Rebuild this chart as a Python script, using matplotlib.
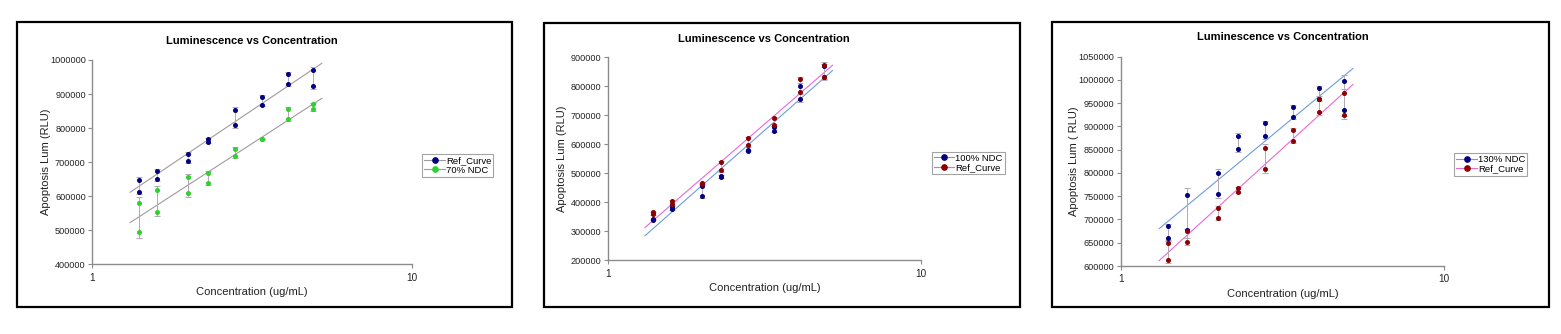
import matplotlib
matplotlib.use("Agg")
import matplotlib.pyplot as plt
import numpy as np
from matplotlib.lines import Line2D
from matplotlib.patches import Rectangle
from matplotlib.ticker import FixedLocator, NullLocator, FuncFormatter

plt.rcParams["font.family"] = ["Liberation Sans", "DejaVu Sans"]

# concentrations (ug/mL), two replicates per point
conc = [1.4, 1.6, 2.0, 2.3, 2.8, 3.4, 4.1, 4.9]

ref_rep1 = [648600, 675000, 725000, 768000, 853000, 892000, 959000, 971000]
ref_rep2 = [613400, 650600, 703400, 759000, 809000, 869000, 930500, 924600]

ndc70_rep1 = [580000, 617000, 655500, 667000, 738700, 768000, 855000, 871700]
ndc70_rep2 = [495000, 553700, 608500, 639800, 717100, 767000, 826700, 855100]

ref2_rep1 = [366000, 405000, 466000, 538000, 621000, 690000, 824000, 875000]
ref2_rep2 = [358000, 394000, 462000, 510000, 597000, 667000, 781000, 833000]
ndc100_rep1 = [338000, 384000, 456000, 492000, 580000, 659000, 801000, 870000]
ndc100_rep2 = [341000, 376000, 423000, 486000, 577000, 645000, 756000, 831000]

ndc130_rep1 = [685300, 751900, 799200, 880200, 906700, 941100, 982700, 997000]
ndc130_rep2 = [659500, 676700, 755500, 850800, 878700, 919600, 960000, 936100]

TITLE = "Luminescence vs Concentration"
XLABEL = "Concentration (ug/mL)"

NAVY = "#000080"
GREEN = "#2ED12E"
DARKRED = "#8B0000"
GREY_LINE = "#A39A9A"
BLUE_LINE = "#6E9BDD"
PINK_LINE = "#EE66D6"
ERR = "#B4A8B4"

W, H = 1561, 334
fig = plt.figure(figsize=(W / 100, H / 100), dpi=100)
fig.patch.set_facecolor("white")


def fbox(l, t, r, b):
    return [l / W, 1 - b / H, (r - l) / W, (b - t) / H]


panels = [
    dict(frame=(17, 22, 512, 307), ax=(92, 60, 412.3, 264.3),
         ylim=(400000, 1000000), ystep=100000, ylabel="Apoptosis Lum (RLU)",
         title_y=41.5, xlab_y=292.3, ylab_x=46, leg=(422.3, 154.3),
         series=[("Ref_Curve", ref_rep1, ref_rep2, NAVY, GREY_LINE),
                 ("70% NDC", ndc70_rep1, ndc70_rep2, GREEN, GREY_LINE)]),
    dict(frame=(543.5, 22.5, 1020, 306.7), ax=(607.7, 57.3, 921, 260.3),
         ylim=(200000, 900000), ystep=100000, ylabel="Apoptosis Lum (RLU)",
         title_y=38.7, xlab_y=287.7, ylab_x=562, leg=(931.7, 151.7),
         series=[("100% NDC", ndc100_rep1, ndc100_rep2, NAVY, BLUE_LINE),
                 ("Ref_Curve", ref2_rep1, ref2_rep2, DARKRED, PINK_LINE)]),
    dict(frame=(1052, 22, 1549, 306.7), ax=(1120.7, 56.7, 1444.3, 266),
         ylim=(600000, 1050000), ystep=50000, ylabel="Apoptosis Lum ( RLU)",
         title_y=37.3, xlab_y=294, ylab_x=1074, leg=(1454.3, 153.3),
         series=[("130% NDC", ndc130_rep1, ndc130_rep2, NAVY, BLUE_LINE),
                 ("Ref_Curve", ref_rep1, ref_rep2, DARKRED, PINK_LINE)]),
]

x = np.array(conc)
for p in panels:
    fl, ft, fr, fb = p["frame"]
    fig.patches.append(Rectangle((fl / W, 1 - fb / H), (fr - fl) / W, (fb - ft) / H,
                                 transform=fig.transFigure, fill=False,
                                 ec="black", lw=1.6, zorder=0))
    l, t, r, b = p["ax"]
    ax = fig.add_axes(fbox(l, t, r, b))
    ax.set_xscale("log")
    ax.set_xlim(1, 10)
    ax.set_ylim(*p["ylim"])

    handles = []
    for label, r1, r2, mcol, lcol in p["series"]:
        reps = np.vstack([r1, r2])
        mean = reps.mean(axis=0)
        sd = reps.std(axis=0, ddof=1)
        ax.errorbar(x, mean, yerr=sd, fmt="none", ecolor=ERR, elinewidth=0.7,
                    capsize=2, capthick=0.7, zorder=2)
        # log-linear fit through all replicates
        k, c0 = np.polyfit(np.log10(np.concatenate([x, x])), reps.ravel(), 1)
        xf = np.array([x.min() / 1.065, x.max() * 1.065])
        ax.plot(xf, k * np.log10(xf) + c0, color=lcol, lw=0.8, zorder=1)
        ax.plot(np.concatenate([x, x]), reps.ravel(), "o", ms=2.6, color=mcol,
                mec=mcol, zorder=3)
        handles.append(Line2D([], [], color=lcol, lw=0.8, marker="o", ms=3.8,
                              mfc=mcol, mec=mcol, label=label))

    for s in ["top", "right"]:
        ax.spines[s].set_visible(False)
    for s in ["left", "bottom"]:
        ax.spines[s].set_color("#8C8C8C")
        ax.spines[s].set_linewidth(1.0)

    yt = np.arange(p["ylim"][0], p["ylim"][1] + 1, p["ystep"])
    ax.yaxis.set_major_locator(FixedLocator(yt))
    ax.yaxis.set_major_formatter(FuncFormatter(lambda v, pos: f"{int(round(v))}"))
    ax.xaxis.set_major_locator(FixedLocator([1, 10]))
    ax.xaxis.set_major_formatter(FuncFormatter(lambda v, pos: f"{int(round(v))}"))
    ax.xaxis.set_minor_locator(NullLocator())
    ax.tick_params(axis="both", direction="out", length=3, width=0.8,
                   color="#8C8C8C", labelsize=6.6, pad=1.5, labelcolor="#222222")
    ax.tick_params(axis="x", pad=3, labelsize=7.2)

    cx = (l + r) / 2
    fig.text(cx / W, 1 - p["title_y"] / H, TITLE, ha="center", va="center",
             fontsize=8, fontweight="bold")
    fig.text(cx / W, 1 - p["xlab_y"] / H, XLABEL, ha="center", va="center",
             fontsize=8, color="#222222")
    fig.text(p["ylab_x"] / W, 1 - ((t + b) / 2) / H, p["ylabel"], ha="center",
             va="center", rotation=90, fontsize=8, color="#222222")

    lx, ly = p["leg"]
    leg = ax.legend(handles=handles, loc="upper left",
                    bbox_to_anchor=(lx / W, 1 - ly / H),
                    bbox_transform=fig.transFigure, fontsize=6.8,
                    frameon=True, fancybox=False, edgecolor="#8C8C8C",
                    borderpad=0.2, handlelength=2.2, handletextpad=0.1,
                    labelspacing=0.05, borderaxespad=0)
    leg.get_frame().set_linewidth(0.8)

fig.savefig("out.png", dpi=100, facecolor="white")
